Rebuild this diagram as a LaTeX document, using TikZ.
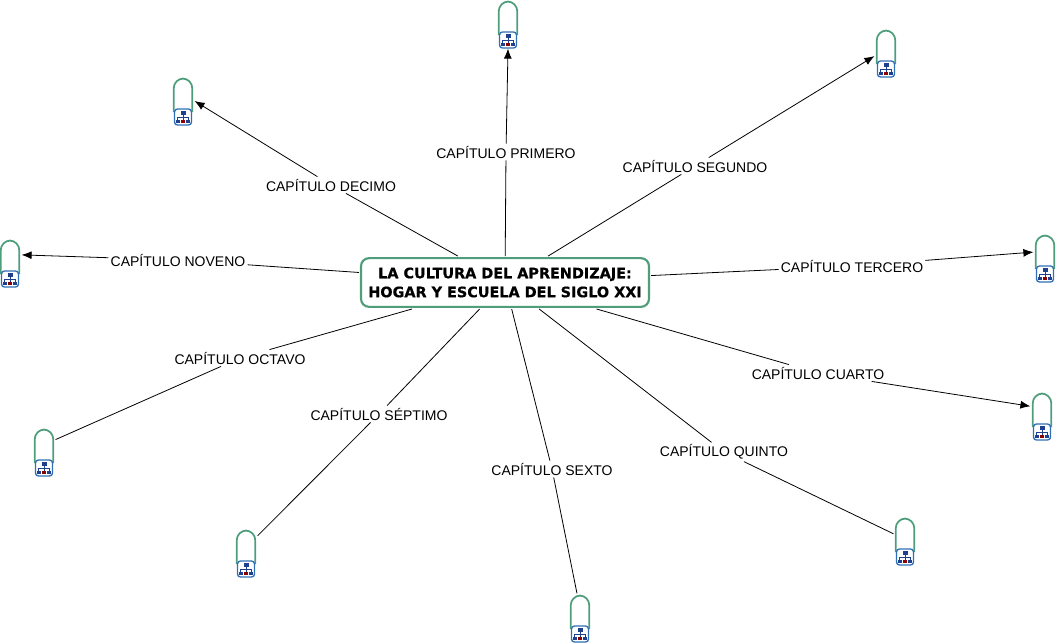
\documentclass[tikz,border=0pt]{standalone}
\usepackage{fontspec}
\usetikzlibrary{arrows.meta}
\setmainfont{Liberation Sans}
\newfontfamily\heavyfont{DejaVu Sans Bold}[FakeBold=0.6]
\definecolor{pillgreen}{HTML}{4E9E7C}
\definecolor{iconblue}{HTML}{2F6FB5}
\definecolor{icondark}{HTML}{1F3F8F}
\tikzset{
  x=0.75pt,y=-0.75pt,
  centralbox/.style={draw=pillgreen,line width=1.6pt,rounded corners=6pt,fill=white,minimum width=216pt,minimum height=36.5pt,inner sep=0pt,outer sep=1.6pt,align=center,font=\heavyfont\fontsize{10.8}{14.2}\selectfont},
  pill/.style={draw=none,minimum width=15pt,minimum height=34.5pt,inner sep=0pt,outer sep=1.2pt},
  chapter/.style={font=\fontsize{10.5}{12}\selectfont,inner sep=1.5pt},
  link/.style={draw=black,line width=0.6pt},
  tiplink/.style={link,-{Latex[length=7.5pt,width=6pt]}}
}
\newcommand{\pillat}[3]{%
  \node[pill] (#1) at (#2,#3+23) {};
  \begin{scope}[shift={(#2,#3)}]
    \draw[pillgreen,line width=1.3pt,rounded corners=7.4pt] (-9.3,34) -- (-9.3,0.5) -- (9.3,0.5) -- (9.3,34);
    \draw[iconblue,fill=white,line width=1pt,rounded corners=2.2pt] (-8.5,31) rectangle (8.5,47);
    \draw[icondark,line width=0.5pt] (0,35) -- (0,42) (-5.2,42) -- (-5.2,39) -- (5.2,39) -- (5.2,42);
    \fill[icondark] (-2.5,33) rectangle (2.5,37);
    \fill[icondark] (-7,41.5) rectangle (-3.4,45);
    \fill[red!55!black] (-1.6,41.5) rectangle (1.6,45);
    \fill[icondark] (3.4,41.5) rectangle (7,45);
  \end{scope}}
\begin{document}
\begin{tikzpicture}
\useasboundingbox (0,0) rectangle (1056,643);
\node[centralbox] (c) at (505,282.5) {LA CULTURA DEL APRENDIZAJE:\\HOGAR Y ESCUELA DEL SIGLO XXI};
\pillat{p1}{508}{1}
\pillat{p2}{886}{30}
\pillat{p3}{1045}{235}
\pillat{p4}{1042}{393}
\pillat{p5}{905}{518}
\pillat{p6}{580}{595}
\pillat{p7}{246}{530}
\pillat{p8}{44}{429}
\pillat{p9}{10}{240}
\pillat{p10}{183}{78}
\node[chapter] (l1) at (506,152) {CAPÍTULO PRIMERO};
\node[chapter] (l2) at (695,166) {CAPÍTULO SEGUNDO};
\node[chapter] (l3) at (852,266) {CAPÍTULO TERCERO};
\node[chapter] (l4) at (818,373) {CAPÍTULO CUARTO};
\node[chapter] (l5) at (724,452) {CAPÍTULO QUINTO};
\node[chapter] (l6) at (552,469) {CAPÍTULO SEXTO};
\node[chapter] (l7) at (379,414) {CAPÍTULO SÉPTIMO};
\node[chapter] (l8) at (240,358) {CAPÍTULO OCTAVO};
\node[chapter] (l9) at (178,260) {CAPÍTULO NOVENO};
\node[chapter] (l10) at (331,185) {CAPÍTULO DECIMO};
\draw[link] (c) -- (l1);
\draw[link] (c) -- (l2);
\draw[link] (c) -- (l3);
\draw[link] (c) -- (l4);
\draw[link] (c) -- (l5);
\draw[link] (c) -- (l6);
\draw[link] (c) -- (l7);
\draw[link] (c) -- (l8);
\draw[link] (c) -- (l9);
\draw[link] (c) -- (l10);
\draw[tiplink] (l1) -- (p1.south);
\draw[tiplink] (l2) -- (p2.195);
\draw[tiplink] (l3) -- (p3.153);
\draw[tiplink] (l4) -- (p4.140);
\draw[link] (l5) -- (p5.148);
\draw[link] (l6) -- (p6.97);
\draw[link] (l7) -- (p7.56);
\draw[link] (l8) -- (p8.47);
\draw[tiplink] (l9) -- (p9.35);
\draw[tiplink] (l10) -- (p10.0);
\end{tikzpicture}
\end{document}
